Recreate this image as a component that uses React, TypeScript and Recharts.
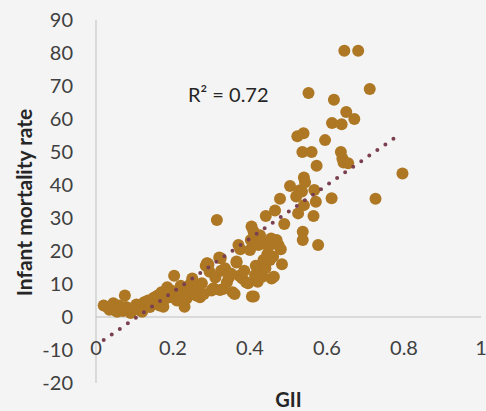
import { ScatterChart, Scatter, XAxis, YAxis, ReferenceLine } from "recharts"

// GII vs infant mortality, one entry per country
const gii = [
  0.02, 0.03, 0.035, 0.045, 0.05, 0.055, 0.06, 0.065, 0.07, 0.075,
  0.078, 0.085, 0.09, 0.095, 0.1, 0.105, 0.11, 0.115, 0.12, 0.125,
  0.13, 0.135, 0.14, 0.145, 0.15, 0.155, 0.16, 0.165, 0.17, 0.175,
  0.18, 0.185, 0.19, 0.195, 0.2, 0.203, 0.21, 0.215, 0.22, 0.225,
  0.23, 0.235, 0.24, 0.245, 0.25, 0.252, 0.26, 0.265, 0.27, 0.275,
  0.28, 0.285, 0.29, 0.295, 0.3, 0.305, 0.31, 0.314, 0.32, 0.322,
  0.325, 0.33, 0.335, 0.34, 0.345, 0.35, 0.355, 0.36, 0.365, 0.37,
  0.372, 0.375, 0.38, 0.385, 0.39, 0.395, 0.4, 0.402, 0.404, 0.405,
  0.409, 0.41, 0.413, 0.415, 0.42, 0.422, 0.425, 0.426, 0.43, 0.432,
  0.435, 0.44, 0.441, 0.445, 0.448, 0.452, 0.455, 0.456, 0.46, 0.462,
  0.465, 0.469, 0.474, 0.478, 0.48, 0.483, 0.489, 0.504, 0.52, 0.523,
  0.525, 0.528, 0.535, 0.537, 0.537, 0.539, 0.54, 0.54, 0.543, 0.536,
  0.552, 0.56, 0.565, 0.567, 0.571, 0.573, 0.577, 0.595, 0.612, 0.613,
  0.618, 0.636, 0.638, 0.64, 0.643, 0.645, 0.65, 0.655, 0.671, 0.681,
  0.711, 0.726, 0.796, 0.288, 0.324, 0.365, 0.292,
]
const imr = [
  3.5, 3.0, 2.2, 4.2, 2.0, 1.6, 3.5, 2.5, 1.8, 6.5,
  3.0, 2.5, 1.2, 2.0, 3.0, 3.8, 2.5, 2.0, 1.6, 4.5,
  3.5, 5.0, 3.0, 4.0, 5.8, 4.5, 6.5, 3.5, 7.5, 3.1,
  5.5, 9.0, 6.0, 8.0, 6.2, 12.5, 5.0, 7.5, 9.5, 7.0,
  3.1, 5.5, 8.0, 10.0, 11.7, 8.7, 6.5, 9.5, 6.0, 10.2,
  7.0, 15.5, 16.2, 13.7, 8.0, 8.7, 12.0, 29.4, 18.0, 8.2,
  14.0, 8.5, 14.8, 10.5, 12.0, 13.2, 7.5, 7.0, 16.5, 21.8,
  12.5, 20.5, 11.7, 14.0, 10.5, 10.2, 20.3, 23.3, 27.4, 6.2,
  26.0, 6.2, 12.7, 15.5, 10.7, 21.8, 13.5, 24.8, 22.8, 12.2,
  17.3, 14.8, 30.6, 19.0, 21.3, 17.3, 23.8, 11.7, 18.3, 12.2,
  32.3, 23.3, 21.8, 35.8, 20.5, 16.0, 28.2, 39.7, 36.5, 54.8,
  31.4, 38.3, 38.0, 25.8, 23.3, 55.7, 42.3, 33.9, 40.8, 50.0,
  67.9, 50.0, 30.6, 38.5, 34.9, 45.8, 21.8, 53.6, 36.0, 58.8,
  65.8, 50.0, 58.4, 48.0, 46.8, 80.7, 62.1, 46.6, 60.0, 80.7,
  69.1, 35.8, 43.5, 16.3, 17.8, 16.8, 15.8,
]

// linear trendline ends
const trendGii = [0.02, 0.78]
const trendImr = [-7, 54.6]

const xTicks = [0, 0.2, 0.4, 0.6, 0.8, 1]
const yTicks = [-20, -10, 0, 10, 20, 30, 40, 50, 60, 70, 80, 90]

const points = gii.map((g, i) => ({ gii: g, imr: imr[i] }))
const trend = trendGii.map((g, i) => ({ gii: g, imr: trendImr[i] }))

const font = "Lato, 'Open Sans', sans-serif"

const XTick = (props: any) => {
  const { x, y, payload } = props
  return (
    <text x={x} y={y - 36} textAnchor="middle" fill="#404040" fontSize={20} fontFamily={font}>
      {payload.value}
    </text>
  )
}

const YTitle = (props: any) => {
  const { viewBox } = props
  const cx = viewBox.x + 23
  const cy = viewBox.y + viewBox.height / 2 + 1
  return (
    <text
      x={cx}
      y={cy}
      transform={`rotate(-90 ${cx} ${cy})`}
      textAnchor="middle"
      dominantBaseline="central"
      fontWeight="bold"
      fontSize={21}
      fontFamily={font}
      fill="#262626"
    >
      Infant mortality rate
    </text>
  )
}

export default function App() {
  return (
    <div style={{ position: "absolute", left: 0, top: 0, width: 486, height: 411, background: "#f4f4f4" }}>
      <ScatterChart width={486} height={411} margin={{ top: 20, right: 5, bottom: 0, left: 0 }}>
        <XAxis
          type="number"
          dataKey="gii"
          domain={[0, 1]}
          ticks={xTicks}
          height={28}
          axisLine={false}
          tickLine={false}
          tick={<XTick />}
          label={{ value: "GII", position: "insideBottom", offset: 4, fontWeight: "bold", fontSize: 20, fill: "#262626", fontFamily: font }}
        />
        <YAxis
          type="number"
          dataKey="imr"
          domain={[-20, 90]}
          ticks={yTicks}
          width={96}
          axisLine={{ stroke: "#bfbfbf" }}
          tickLine={false}
          tickMargin={17}
          tick={{ fill: "#404040", fontSize: 20, fontFamily: font }}
          label={<YTitle />}
        />
        <ReferenceLine y={0} stroke="#bfbfbf" strokeWidth={1} />
        <Scatter
          data={points}
          fill="#ad7723"
          isAnimationActive={false}
          shape={(p: any) => <circle cx={p.cx} cy={p.cy} r={6} fill="#ad7723" />}
        />
        <Scatter
          data={trend}
          isAnimationActive={false}
          line={{ stroke: "#7b4050", strokeWidth: 4, strokeDasharray: "0 9.8", strokeLinecap: "round" }}
          shape={() => null}
        />
      </ScatterChart>
      <div
        style={{
          position: "absolute",
          left: 188,
          top: 82,
          fontFamily: font,
          fontSize: 20,
          color: "#262626",
          whiteSpace: "nowrap",
        }}
      >
        R² = 0.72
      </div>
    </div>
  )
}
